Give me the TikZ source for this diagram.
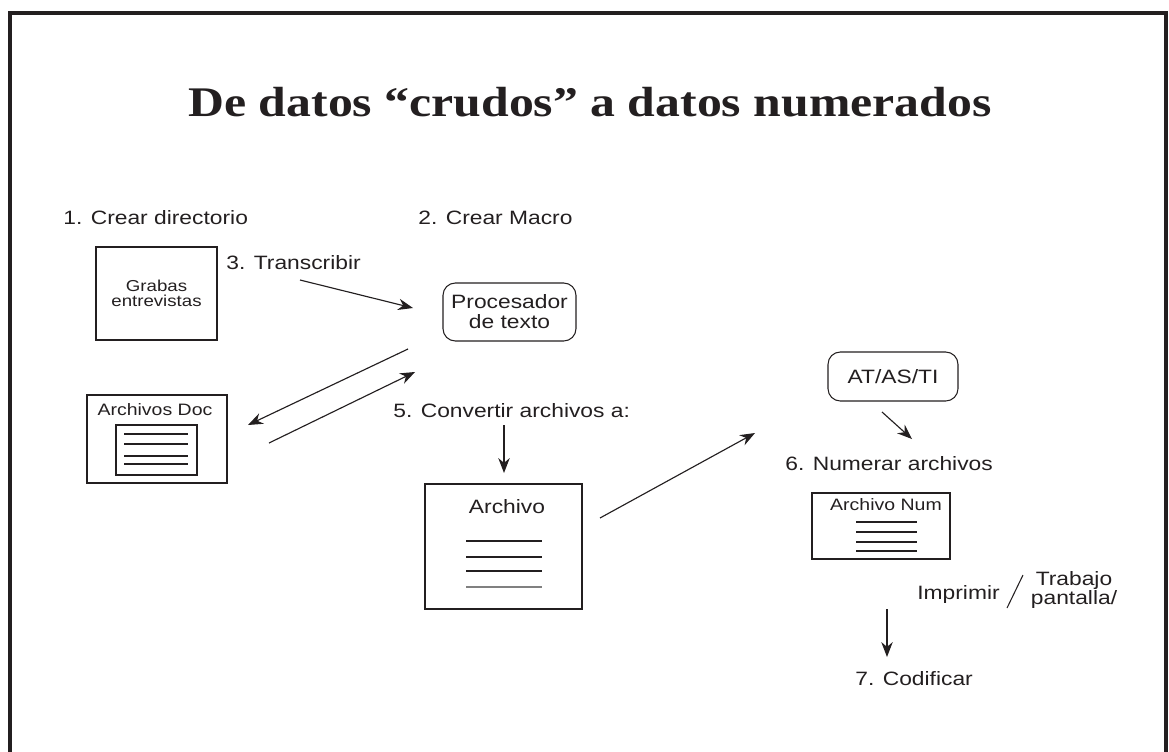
\documentclass[tikz,border=0pt]{standalone}
\usepackage{fontspec}
\setmainfont{Liberation Sans}[FakeStretch=1.18]
\newfontfamily\titlefont{Liberation Serif}[FakeStretch=1.18,Ligatures=TeX]
\usetikzlibrary{arrows.meta}
\definecolor{ink}{RGB}{35,31,32}
\tikzstyle{lbl} = [inner sep=0pt,anchor=base west,text=ink,font=\fontsize{11}{13}\selectfont]
\tikzstyle{box} = [draw=ink,line width=0.6pt,inner sep=0pt]
\tikzstyle{rbox} = [draw=ink,line width=0.6pt,rounded corners=7pt,align=center,text=ink,font=\fontsize{11}{11.4}\selectfont]
\tikzstyle{arr} = [draw=ink,line width=0.65pt,-{Stealth[length=8.5pt,width=6.5pt]}]
\tikzstyle{rule} = [draw=ink,line width=0.6pt]

\begin{document}
\begin{tikzpicture}[x=0.02cm,y=-0.02cm]
\useasboundingbox (0,0) rectangle (1169,751);
% frame
\draw[ink,line width=2.3pt] (10,760) -- (10,13) -- (1166,13) -- (1166,760);
\draw(590,102) node[text=ink,font=\titlefont\bfseries\fontsize{24}{28}\selectfont] (title) {De datos “crudos” a datos numerados};

% steps
\draw(63,224) node[lbl] (s1) {1. Crear directorio};
\draw(418,224) node[lbl] (s2) {2. Crear Macro};
\draw(226,269) node[lbl] (s3) {3. Transcribir};
\draw(393,417) node[lbl] (s5) {5. Convertir archivos a:};
\draw(785,470) node[lbl] (s6) {6. Numerar archivos};
\draw(855,685) node[lbl] (s7) {7. Codificar};

% grabaciones
\draw(156.5,293.5) node[box,minimum width=2.42cm,minimum height=1.86cm,align=center,text=ink,
  font=\fontsize{9}{8.2}\selectfont] (grab) {Grabas\\entrevistas};

% procesador y AT
\draw(509.5,312) node[rbox,minimum width=2.66cm,minimum height=1.16cm] (proc) {Procesador\\de texto};
\draw(893,376.5) node[rbox,minimum width=2.6cm,minimum height=0.98cm] (atas) {AT/AS/TI};

% archivos doc
\draw(157,439) node[box,minimum width=2.8cm,minimum height=1.76cm] (doc) {};
\draw(155,410) node[text=ink,inner sep=0pt,font=\fontsize{9.4}{11}\selectfont] (docl) {Archivos Doc};
\draw(156.5,450) node[box,minimum width=1.62cm,minimum height=1cm] (docin) {};
\foreach \y in {434,444,456,464}
  \draw[rule] (124,\y) -- (188,\y);

% archivo
\draw(503.5,546.5) node[box,minimum width=3.14cm,minimum height=2.5cm] (arch) {};
\draw(507,507) node[text=ink,inner sep=0pt,font=\fontsize{11}{13}\selectfont] (archl) {Archivo};
\foreach \y in {541,557,571}
  \draw[rule] (466,\y) -- (542,\y);
\draw[rule,draw=gray] (466,587) -- (542,587);

% archivo num
\draw(881,526) node[box,minimum width=2.76cm,minimum height=1.32cm] (num) {};
\draw(886,505) node[text=ink,inner sep=0pt,font=\fontsize{9.4}{11}\selectfont] (numl) {Archivo Num};
\foreach \y in {522,532,542,551}
  \draw[rule] (856,\y) -- (917,\y);

% imprimir / pantalla
\draw(917,599) node[lbl] (impr) {Imprimir};
\draw(1074,590) node[align=center,text=ink,inner sep=0pt,font=\fontsize{11}{9.8}\selectfont] (pant) {Trabajo\\pantalla/};
\coordinate (sla) at (1023,575);
\coordinate (slb) at (1007,608);
\draw[rule] (sla) -- (slb);

% arrows
\coordinate (t0) at (300,280);
\coordinate (t1) at (413,308);
\coordinate (p0) at (408,349);
\coordinate (p1) at (248,425);
\coordinate (d0) at (269,443);
\coordinate (d1) at (415,372);
\coordinate (c0) at (504,425);
\coordinate (c1) at (504,473);
\coordinate (a0) at (600,518);
\coordinate (a1) at (755,433);
\coordinate (n0) at (882,412);
\coordinate (n1) at (912,439);
\coordinate (i0) at (887,609);
\coordinate (i1) at (887,657);
\draw[arr] (t0) -- (t1);
\draw[arr] (p0) -- (p1);
\draw[arr] (d0) -- (d1);
\draw[arr] (c0) -- (c1);
\draw[arr] (a0) -- (a1);
\draw[arr] (n0) -- (n1);
\draw[arr] (i0) -- (i1);

\end{tikzpicture}
\end{document}
